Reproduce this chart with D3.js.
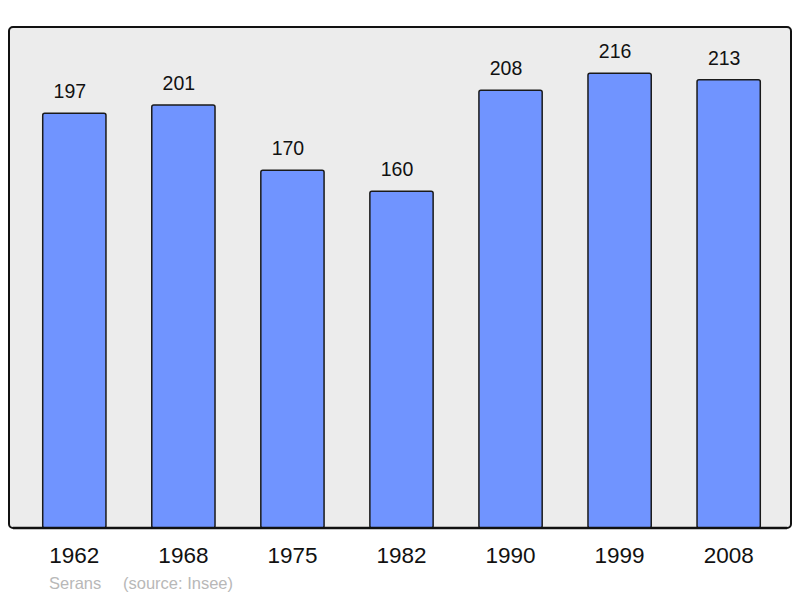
<!DOCTYPE html>
<html>
<head>
<meta charset="utf-8">
<script src="https://cdn.jsdelivr.net/npm/d3@7"></script>
<style>
  body { margin: 0; background: #fff; }
  svg { display: block; font-family: "Liberation Sans", Arial, sans-serif; }
</style>
</head>
<body>
<div id="chart"></div>
<script>
// data
const years = ["1962", "1968", "1975", "1982", "1990", "1999", "2008"];
const population = [197, 201, 170, 160, 208, 216, 213];
const commune = "Serans";
const source = "(source: Insee)";

const width = 800, height = 598;
const frame = { left: 9, top: 27, right: 791, bottom: 528 };

const svg = d3.select("#chart").append("svg")
    .attr("width", width)
    .attr("height", height);

// plot background
svg.append("rect")
    .attr("x", frame.left)
    .attr("y", frame.top)
    .attr("width", frame.right - frame.left)
    .attr("height", frame.bottom - frame.top)
    .attr("rx", 4)
    .attr("fill", "#ececec")
    .attr("stroke", "#111")
    .attr("stroke-width", 2);

const x = d3.scaleBand()
    .domain(years)
    .range([10, 793])
    .paddingInner(0.42)
    .paddingOuter(0.3);

const y = d3.scaleLinear()
    .domain([0, 238])
    .range([frame.bottom, frame.top]);

const data = years.map((yr, i) => ({ year: yr, value: population[i] }));

// bars
svg.selectAll(".bar")
  .data(data)
  .enter().append("rect")
    .attr("class", "bar")
    .attr("x", d => x(d.year))
    .attr("y", d => y(d.value))
    .attr("width", x.bandwidth())
    .attr("height", d => y(0) - y(d.value))
    .attr("rx", 2)
    .attr("fill", "#7094ff")
    .attr("stroke", "#1a1a1a")
    .attr("stroke-width", 1.5);

// redraw bottom frame line over bar bottoms (keep the rounded corners)
svg.append("line")
    .attr("x1", frame.left + 4)
    .attr("x2", frame.right - 4)
    .attr("y1", frame.bottom)
    .attr("y2", frame.bottom)
    .attr("stroke", "#111")
    .attr("stroke-width", 2.5);

// value labels
svg.selectAll(".value")
  .data(data)
  .enter().append("text")
    .attr("class", "value")
    .attr("x", d => x(d.year) + x.bandwidth() / 2 - 4.5)
    .attr("y", d => y(d.value) - 15)
    .attr("text-anchor", "middle")
    .attr("font-size", 19.5)
    .attr("fill", "#111")
    .text(d => d.value);

// x axis labels
const xAxis = d3.axisBottom(x).tickSize(0).tickPadding(0);
const xAxisGroup = svg.append("g")
    .attr("transform", "translate(0," + frame.bottom + ")")
    .call(xAxis);
xAxisGroup.select(".domain").remove();
xAxisGroup.selectAll("text")
    .attr("dy", null)
    .attr("y", 35)
    .attr("font-size", 22.5)
    .attr("font-family", "Liberation Sans, Arial, sans-serif")
    .attr("fill", "#111");

// caption
svg.append("text")
    .attr("x", 49)
    .attr("y", 589)
    .attr("font-size", 16.5)
    .attr("fill", "#b8b8b8")
    .text(commune);

svg.append("text")
    .attr("x", 123)
    .attr("y", 589)
    .attr("font-size", 16.5)
    .attr("fill", "#b8b8b8")
    .text(source);
</script>
</body>
</html>
